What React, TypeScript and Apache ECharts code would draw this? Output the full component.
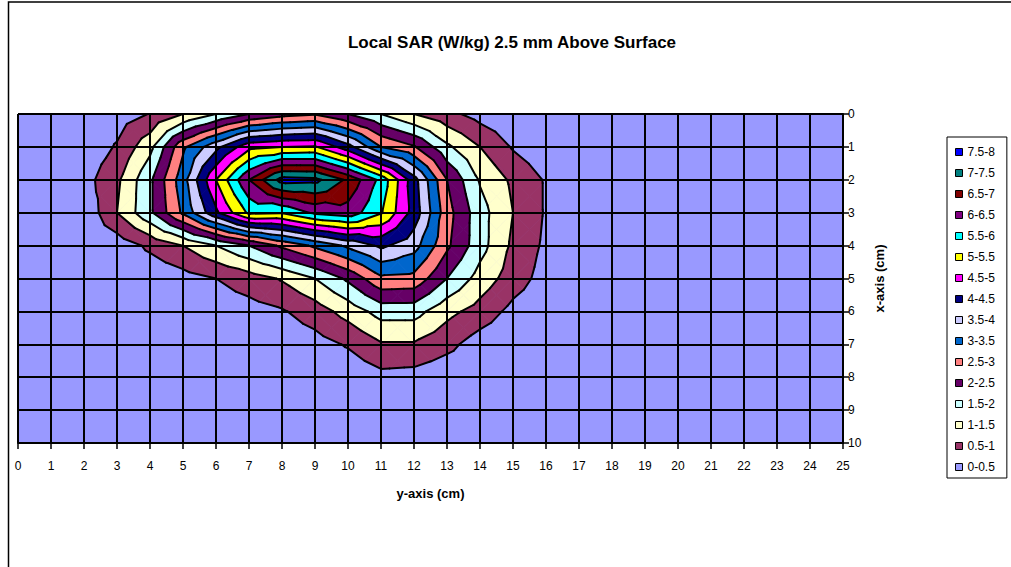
import { useEffect, useRef } from "react";
import * as echarts from "echarts";

// horizontal axis: "y-axis (cm)" positions, vertical axis: "x-axis (cm)" positions
const yCm = [0, 1, 2, 3, 4, 5, 6, 7, 8, 9, 10, 11, 12, 13, 14, 15, 16, 17, 18, 19, 20, 21, 22, 23, 24, 25];
const xCm = [0, 1, 2, 3, 4, 5, 6, 7, 8, 9, 10];

// Local SAR (W/kg), one row per x-axis position, one value per y-axis position
const sarX0 = [0, 0.05, 0.1, 0.25, 0.52, 1.0, 1.5, 2.0, 2.3, 2.45, 2.0, 1.5, 1.0, 0.65, 0.3, 0.1, 0.05, 0, 0, 0, 0, 0, 0, 0, 0, 0];
const sarX1 = [0, 0.05, 0.15, 0.55, 1.35, 2.9, 3.85, 4.85, 5.0, 5.05, 4.2, 3.0, 2.55, 1.6, 1.0, 0.45, 0.15, 0.05, 0, 0, 0, 0, 0, 0, 0, 0];
const sarX2 = [0, 0.1, 0.3, 0.9, 1.9, 3.3, 5.0, 6.5, 7.7, 7.65, 6.9, 5.85, 4.2, 2.5, 1.45, 0.9, 0.45, 0.1, 0, 0, 0, 0, 0, 0, 0, 0];
const sarX3 = [0, 0.05, 0.1, 1.0, 1.9, 3.1, 4.4, 5.6, 5.55, 6.1, 6.3, 5.55, 4.3, 2.7, 1.7, 1.0, 0.45, 0.05, 0, 0, 0, 0, 0, 0, 0, 0];
const sarX4 = [0, 0, 0.05, 0.2, 0.6, 1.0, 1.5, 2.0, 2.6, 3.1, 3.6, 4.1, 3.7, 2.6, 1.7, 0.9, 0.4, 0.05, 0, 0, 0, 0, 0, 0, 0, 0];
const sarX5 = [0, 0, 0, 0.05, 0.15, 0.3, 0.5, 0.75, 1.05, 1.5, 2.1, 2.9, 2.85, 2.0, 1.3, 0.75, 0.3, 0.05, 0, 0, 0, 0, 0, 0, 0, 0];
const sarX6 = [0, 0, 0, 0, 0.05, 0.1, 0.2, 0.3, 0.45, 0.75, 1.2, 1.7, 1.7, 1.15, 0.8, 0.35, 0.1, 0, 0, 0, 0, 0, 0, 0, 0, 0];
const sarX7 = [0, 0, 0, 0, 0, 0, 0.05, 0.1, 0.15, 0.3, 0.55, 0.95, 0.95, 0.65, 0.25, 0.05, 0, 0, 0, 0, 0, 0, 0, 0, 0, 0];
const sarX8 = [0, 0, 0, 0, 0, 0, 0, 0, 0.05, 0.05, 0.15, 0.35, 0.3, 0.15, 0.05, 0, 0, 0, 0, 0, 0, 0, 0, 0, 0, 0];
const sarX9 = [0, 0, 0, 0, 0, 0, 0, 0, 0, 0, 0.05, 0.05, 0.05, 0, 0, 0, 0, 0, 0, 0, 0, 0, 0, 0, 0, 0];
const sarX10 = [0, 0, 0, 0, 0, 0, 0, 0, 0, 0, 0, 0, 0, 0, 0, 0, 0, 0, 0, 0, 0, 0, 0, 0, 0, 0];
const sarGrid = [sarX0, sarX1, sarX2, sarX3, sarX4, sarX5, sarX6, sarX7, sarX8, sarX9, sarX10];

// contour bands
const bandLower = [0, 0.5, 1, 1.5, 2, 2.5, 3, 3.5, 4, 4.5, 5, 5.5, 6, 6.5, 7, 7.5];
const bandUpper = [0.5, 1, 1.5, 2, 2.5, 3, 3.5, 4, 4.5, 5, 5.5, 6, 6.5, 7, 7.5, 8];
const bandLabels = ["0-0.5", "0.5-1", "1-1.5", "1.5-2", "2-2.5", "2.5-3", "3-3.5", "3.5-4", "4-4.5", "4.5-5", "5-5.5", "5.5-6", "6-6.5", "6.5-7", "7-7.5", "7.5-8"];
const bandColors = ["#9999FF", "#993366", "#FFFFCC", "#CCFFFF", "#660066", "#FF8080", "#0066CC", "#CCCCFF", "#000080", "#FF00FF", "#FFFF00", "#00FFFF", "#800080", "#800000", "#008080", "#0000FF"];

const FONT = "Arial, 'Liberation Sans', sans-serif";

type P = [number, number, number];

function clipPoly(poly: P[], level: number, above: boolean): P[] {
  const out: P[] = [];
  const n = poly.length;
  const inside = (p: P) => (above ? p[2] >= level : p[2] < level);
  for (let i = 0; i < n; i++) {
    const a = poly[i];
    const b = poly[(i + 1) % n];
    const ia = inside(a);
    const ib = inside(b);
    if (ia) out.push(a);
    if (ia !== ib) {
      const t = (level - a[2]) / (b[2] - a[2]);
      out.push([a[0] + t * (b[0] - a[0]), a[1] + t * (b[1] - a[1]), level]);
    }
  }
  return out;
}

function buildTriangles(): P[][] {
  const tris: P[][] = [];
  for (let r = 0; r < xCm.length - 1; r++) {
    for (let c = 0; c < yCm.length - 1; c++) {
      const A: P = [yCm[c], xCm[r], sarGrid[r][c]];
      const B: P = [yCm[c + 1], xCm[r], sarGrid[r][c + 1]];
      const C: P = [yCm[c + 1], xCm[r + 1], sarGrid[r + 1][c + 1]];
      const D: P = [yCm[c], xCm[r + 1], sarGrid[r + 1][c]];
      const M: P = [(A[0] + C[0]) / 2, (A[1] + C[1]) / 2, (A[2] + B[2] + C[2] + D[2]) / 4];
      tris.push([A, B, M], [B, C, M], [C, D, M], [D, A, M]);
    }
  }
  return tris;
}

export default function App() {
  const ref = useRef<HTMLDivElement>(null);

  useEffect(() => {
    if (!ref.current) return;
    const chart = echarts.init(ref.current, undefined, { renderer: "svg" });
    const tris = buildTriangles();

    const bandPolys: P[][][] = bandLabels.map(() => []);
    for (let k = 1; k < bandLabels.length; k++) {
      for (const t of tris) {
        let p = clipPoly(t, bandLower[k], true);
        if (p.length < 3) continue;
        p = clipPoly(p, bandUpper[k], false);
        if (p.length < 3) continue;
        bandPolys[k].push(p);
      }
    }

    const segments: number[][] = [];
    for (let k = 1; k < bandLabels.length; k++) {
      const L = bandLower[k];
      for (const t of tris) {
        const pts: number[] = [];
        for (let i = 0; i < 3; i++) {
          const a = t[i];
          const b = t[(i + 1) % 3];
          if ((a[2] >= L) !== (b[2] >= L)) {
            const s = (L - a[2]) / (b[2] - a[2]);
            pts.push(a[0] + s * (b[0] - a[0]), a[1] + s * (b[1] - a[1]));
          }
        }
        if (pts.length === 4) segments.push(pts);
      }
    }

    const bandSeries = bandLabels.map((name, k) => ({
      type: "custom",
      name,
      coordinateSystem: "cartesian2d",
      animation: false,
      progressive: 0,
      silent: true,
      z: 2,
      itemStyle: { color: bandColors[k] },
      data: bandPolys[k].map((p, i) => [p[0][0], p[0][1], i]),
      renderItem: (_params: any, api: any) => {
        const poly = bandPolys[k][api.value(2)];
        return {
          type: "polygon",
          shape: { points: poly.map((q) => api.coord([q[0], q[1]])) },
          style: { fill: bandColors[k], stroke: bandColors[k], lineWidth: 0.8 },
        };
      },
    }));

    const lineSeries = {
      type: "custom",
      name: "contours",
      coordinateSystem: "cartesian2d",
      animation: false,
      progressive: 0,
      silent: true,
      z: 3,
      data: segments.map((s, i) => [s[0], s[1], i]),
      renderItem: (_params: any, api: any) => {
        const s = segments[api.value(2)];
        const p1 = api.coord([s[0], s[1]]);
        const p2 = api.coord([s[2], s[3]]);
        return {
          type: "line",
          shape: { x1: p1[0], y1: p1[1], x2: p2[0], y2: p2[1] },
          style: { stroke: "#000", lineWidth: 2, lineCap: "round" },
        };
      },
    };

    chart.setOption({
      animation: false,
      textStyle: { fontFamily: FONT },
      title: {
        text: "Local SAR (W/kg) 2.5 mm Above Surface",
        left: 507,
        top: 29,
        textAlign: "center",
        textStyle: { fontFamily: FONT, fontSize: 17, fontWeight: "bold", color: "#000" },
      },
      grid: {
        left: 18,
        top: 114,
        width: 825,
        height: 329,
        show: true,
        backgroundColor: bandColors[0],
        borderWidth: 0,
      },
      xAxis: {
        type: "value",
        min: 0,
        max: 25,
        interval: 1,
        position: "bottom",
        z: 10,
        name: "y-axis (cm)",
        nameLocation: "middle",
        nameGap: 44,
        nameTextStyle: { fontFamily: FONT, fontSize: 13, fontWeight: "bold", color: "#000" },
        axisLine: { show: true, onZero: false, lineStyle: { color: "#000", width: 2 } },
        axisTick: { show: true, length: 6, lineStyle: { color: "#000", width: 1.5 } },
        axisLabel: { color: "#000", fontSize: 12, margin: 17, fontFamily: FONT },
        splitLine: { show: true, lineStyle: { color: "#000", width: 2 } },
      },
      yAxis: {
        type: "value",
        min: 0,
        max: 10,
        interval: 1,
        inverse: true,
        position: "right",
        z: 10,
        name: "x-axis (cm)",
        nameLocation: "middle",
        nameRotate: 90,
        nameGap: 30,
        nameTextStyle: { fontFamily: FONT, fontSize: 13, fontWeight: "bold", color: "#000" },
        axisLine: { show: true, onZero: false, lineStyle: { color: "#000", width: 2 } },
        axisTick: { show: true, length: 6, lineStyle: { color: "#000", width: 1.5 } },
        axisLabel: { color: "#000", fontSize: 12, margin: 5, fontFamily: FONT },
        splitLine: { show: true, lineStyle: { color: "#000", width: 2 } },
      },
      legend: {
        orient: "vertical",
        left: 947,
        top: 137,
        padding: [9, 12, 5, 8],
        itemGap: 9,
        itemWidth: 7,
        itemHeight: 7,
        icon: "rect",
        backgroundColor: "#fff",
        borderColor: "#000",
        borderWidth: 1,
        selectedMode: false,
        itemStyle: { borderColor: "#000", borderWidth: 1 },
        textStyle: { fontFamily: FONT, fontSize: 12, color: "#000" },
        data: [...bandLabels].reverse(),
      },
      graphic: [
        {
          type: "rect",
          shape: { x: 8.5, y: 2, width: 1100, height: 1000 },
          style: { fill: "none", stroke: "#000", lineWidth: 1.5 },
          silent: true,
          z: -10,
        },
      ],
      series: [...bandSeries, lineSeries],
    });

    return () => chart.dispose();
  }, []);

  return (
    <div
      ref={ref}
      style={{ position: "fixed", left: 0, top: 0, width: 1011, height: 567, background: "#fff" }}
    />
  );
}
